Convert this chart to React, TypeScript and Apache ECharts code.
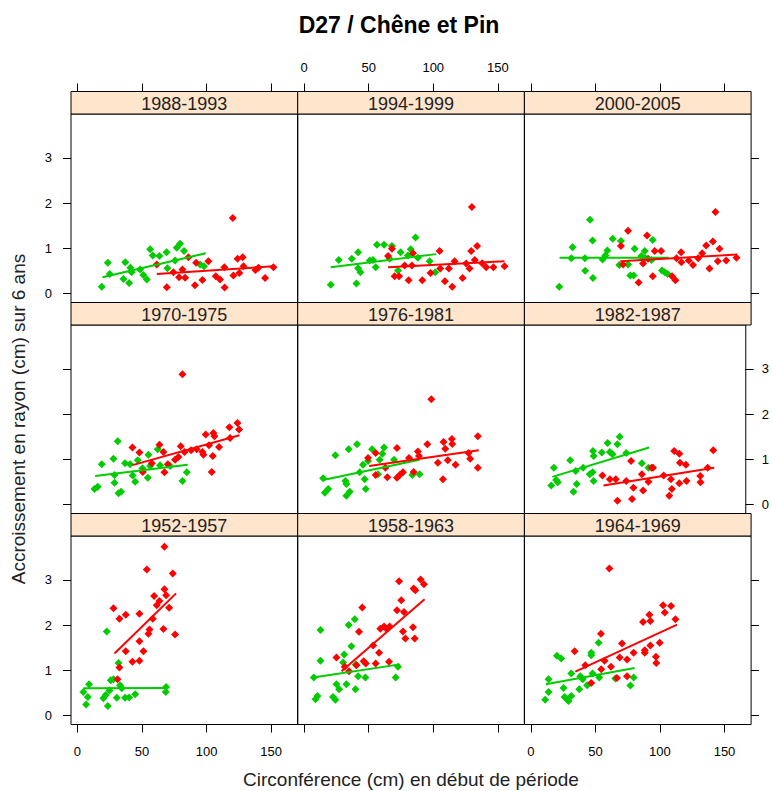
import React, { useEffect, useRef } from "react";
import * as echarts from "echarts";

type Pt = [number, number];

// Panel order: top row, middle row, bottom row (left to right)
const periods = [
  "1988-1993", "1994-1999", "2000-2005",
  "1970-1975", "1976-1981", "1982-1987",
  "1952-1957", "1958-1963", "1964-1969",
];
const xTicks = [0, 50, 100, 150];
const yTicks = [0, 1, 2, 3];

// ---- green group (points) ----
const green1988: Pt[] = [[18.8,0.15],[23.5,0.68],[25,0.43],[35.6,0.32],[37,0.69],[40,0.23],[41,0.57],[42,0.47],[48.5,0.53],[51,0.41],[53.7,0.31],[56.3,0.98],[58.3,0.84],[63.5,0.83],[69,0.91],[69.7,0.56],[75.6,0.73],[76.9,1.01],[79.5,1.1],[82.6,0.94],[95,0.64],[98,0.6]];
const green1994: Pt[] = [[20.6,0.19],[26.8,0.74],[36.9,0.77],[40.5,0.22],[41.8,0.91],[41.8,0.56],[43.6,0.47],[50.8,0.73],[53.3,0.74],[55.4,0.58],[56.4,1.08],[61.9,1.08],[66.2,0.77],[68,1.05],[72.7,0.51],[74.7,0.91],[80.4,0.84],[82.5,0.98],[86.3,1.24],[88.1,0.79],[97.2,0.71],[101.5,0.47]];
const green2000: Pt[] = [[22,0.15],[31.3,0.78],[32.3,1.02],[41.9,0.78],[42.1,0.5],[45.8,1.63],[47.8,1.17],[48.1,0.34],[55.6,0.75],[57.7,0.84],[59.2,0.95],[63.4,1.21],[68.5,0.63],[69.8,1.16],[75.3,0.64],[77,0.4],[79.6,0.4],[80.4,0.99],[85.6,0.83],[88.2,0.94],[88.7,0.78],[93.4,0.74],[94.4,1.18],[101.6,0.51],[103.7,0.47],[106,0.43]];
const green1970: Pt[] = [[13.2,0.34],[15.7,0.39],[18.8,0.89],[27.9,1.01],[28.7,0.65],[28.7,0.48],[31.2,1.4],[31.8,0.25],[33.8,0.28],[36.9,0.91],[40.8,0.89],[42.8,0.64],[44.7,0.5],[46.7,0.98],[50.3,0.8],[54.5,0.59],[55,1.1],[56.3,0.85],[62.2,1.22],[64,0.87],[71.8,0.85],[81.3,0.52],[84.7,0.71]];
const green1976: Pt[] = [[14.7,0.58],[16,0.26],[18.6,0.34],[24.2,1.09],[32,0.52],[32.7,0.45],[32.7,0.19],[34.5,1.22],[35.3,0.28],[41,1.33],[43,0.71],[45.6,0.88],[46.9,0.56],[47.7,0.34],[49.5,0.96],[52.6,1.22],[57.2,0.67],[58.5,0.99],[61.9,1.26],[60.6,1.12],[69.6,0.99],[83.8,0.65],[89.4,0.67]];
const green1982: Pt[] = [[16.3,0.42],[18.4,0.81],[20.2,0.54],[21.5,0.49],[31.3,0.98],[33.9,0.28],[36.5,0.45],[35.7,0.74],[41.6,0.81],[46.8,0.67],[49.1,0.71],[49.9,0.52],[49.4,1.18],[49.9,1.07],[56.4,1.15],[61,1.36],[62.8,1.16],[64.9,1.11],[68.8,1.33],[70.6,1.5],[75.8,1.14],[88.2,0.91],[93.4,0.81]];
const green1952: Pt[] = [[4.6,0.52],[6.7,0.24],[8,0.41],[9,0.69],[20.1,0.38],[21.9,0.45],[23.5,0.21],[22.7,1.86],[24.8,0.55],[25.8,0.78],[27.9,0.8],[30.5,0.39],[31.8,1.16],[33,0.67],[34.3,0.6],[36.9,0.39],[40,0.4],[44.7,0.47],[68.7,0.63],[68.4,0.52]];
const green1958: Pt[] = [[7.5,0.84],[8.8,0.36],[10.3,0.43],[12.6,1.21],[12.6,1.89],[22.4,0.41],[24.2,0.35],[25,0.69],[27.1,0.58],[30.2,1.17],[31,1.35],[32.7,0.69],[34.5,2.0],[36.6,1.53],[39.2,2.13],[39.7,0.58],[40,1.13],[41.8,0.87],[47.4,0.84],[70.9,0.84],[72.7,1.08]];
const green1964: Pt[] = [[11.1,0.35],[13.7,0.52],[13.7,0.8],[20.2,1.32],[23.5,1.26],[25.3,0.61],[26.1,0.41],[27.9,0.36],[29.2,0.32],[31.3,0.93],[31.3,0.43],[37.5,0.58],[38.3,0.87],[40.1,0.8],[43.6,0.67],[46.8,1.39],[46.8,1.33],[47.8,0.93],[52.5,1.61],[53,0.84],[65.4,0.82],[77.1,0.66],[79.6,0.84]];

// ---- red group (points) ----
const red1988: Pt[] = [[61.4,0.64],[69.2,0.14],[74.3,0.47],[78.7,0.36],[81.3,0.53],[83.4,0.35],[85.9,0.8],[91,0.18],[91.9,0.68],[96.8,0.3],[101.4,0.71],[107.1,0.38],[110.4,0.31],[113.8,0.58],[114,0.13],[120.3,1.67],[120.8,0.4],[124,0.77],[125.4,0.45],[128,0.8],[128.6,0.6],[137.8,0.52],[140.2,0.57],[145.3,0.34],[151.8,0.58]];
const red1994: Pt[] = [[65,0.83],[68,0.99],[70.1,0.38],[73.5,0.38],[77.8,0.62],[80.9,0.29],[83.5,0.62],[84.3,0.89],[91.5,0.29],[97.9,0.45],[104.9,0.94],[105.4,0.55],[109,0.27],[112.1,0.55],[114.7,0.15],[116.5,0.71],[122.7,0.34],[125.5,0.66],[128.1,0.55],[129.4,0.94],[129.9,1.91],[132.2,0.74],[134,1.05],[137.9,0.67],[141,0.58],[146.6,0.58],[155.2,0.6]];
const red2000: Pt[] = [[69.8,1.05],[71.4,0.64],[75.3,1.39],[83.5,0.24],[86.9,0.66],[90,1.28],[90.8,0.77],[94.4,0.38],[95.9,0.94],[100.9,0.94],[109.4,0.38],[112,0.29],[112.8,0.78],[116.4,0.91],[116.6,0.69],[122.3,0.73],[125.6,0.63],[129.6,0.78],[132.7,0.89],[135.8,1.06],[138.4,0.55],[141,1.15],[143,1.8],[144.8,0.71],[146.1,0.99],[151.3,0.73],[159.3,0.79]];
const red1970: Pt[] = [[42.6,1.26],[48,1.15],[50.6,0.72],[57.6,0.91],[63.5,1.32],[67.4,0.71],[66.6,1.16],[70,0.89],[75.6,0.99],[78.2,1.05],[80,1.29],[81.3,2.88],[82.9,1.16],[88,1.2],[92.4,1.22],[96.8,1.16],[97.6,1.1],[99.4,1.55],[101.9,1.31],[104,0.72],[104.8,1.07],[105.3,1.58],[106.1,1.51],[109.7,1.27],[117.7,1.71],[118.2,1.47],[123.9,1.8],[125.2,1.66]];
const red1976: Pt[] = [[49.5,1.03],[55.4,1.14],[55.4,0.65],[62.9,0.81],[64.4,0.6],[71.9,1.25],[71.9,0.59],[74,0.65],[76.5,0.71],[81.2,1.03],[84.8,0.72],[88.1,1.17],[88.9,1.07],[95.4,1.33],[98.5,2.33],[103.6,0.92],[107.5,0.56],[108,1.38],[109.3,1.23],[111.3,0.98],[114.4,1.45],[114.7,1.34],[117.3,0.88],[127.3,1.14],[128.6,1.01],[134.5,1.51],[134.5,0.81]];
const red1982: Pt[] = [[56.9,0.64],[62.8,0.56],[67.5,0.56],[68.8,0.08],[75.8,0.52],[79.6,0.96],[81.5,0.37],[80.4,0.12],[88.2,0.67],[89.2,0.31],[93.4,0.5],[95.9,0.81],[97,0.81],[105.5,0.64],[109.9,0.19],[111.2,0.56],[112,0.34],[113.8,1.18],[117.9,1.12],[117.9,0.47],[118.4,0.92],[123.1,0.88],[123.6,0.52],[134.5,0.63],[134.7,0.49],[140.4,0.81],[144.8,1.2]];
const red1952: Pt[] = [[31,0.8],[32.5,1.06],[27.9,2.37],[32.5,2.14],[37.4,2.23],[37.4,1.42],[42.6,1.19],[48,2.25],[48,1.21],[48,1.64],[51.1,1.42],[53.7,3.23],[55,1.81],[55.8,1.9],[58.3,2.14],[59.4,2.64],[61.4,2.44],[63.5,2.53],[66.6,1.91],[67.4,3.73],[67.4,2.79],[68.7,2.66],[71,2.38],[73.8,3.14],[75.6,1.79]];
const red1958: Pt[] = [[25,1.28],[31.4,1.08],[34.8,0.98],[40.5,1.11],[42.5,1.85],[45,2.39],[46.1,1.2],[47.7,1.15],[53.4,1.55],[55.4,1.15],[58,1.39],[59,1.92],[61.9,1.97],[63.7,1.92],[65.7,1.19],[66.2,1.97],[71.9,2.33],[73.5,2.97],[75.2,2.55],[76.5,1.86],[78.4,1.7],[77.3,2.29],[84.3,1.95],[85.6,1.7],[84.8,2.81],[86.1,2.77],[90.2,3.01],[92.8,2.9]];
const red1964: Pt[] = [[33.9,1.42],[42.2,1.11],[46.8,0.72],[54.3,1.81],[54.5,1.02],[57.1,1.21],[60.8,3.25],[62.1,1.08],[66.7,0.83],[68.8,1.28],[70.6,1.59],[74.5,1.24],[74.5,0.87],[79.6,1.39],[86.9,2.07],[88.2,1.44],[88.2,1.39],[91.8,2.23],[92.6,2.09],[92.6,1.55],[96.9,1.3],[97.2,1.16],[99.8,1.61],[102.4,2.44],[103.7,2.28],[108.6,2.42],[112,2.13]];

// ---- regression lines (end points) ----
const greenLines: Pt[][] = [
  [[19.4,0.36],[99.4,0.89]], [[20.6,0.58],[102.3,0.87]], [[22.2,0.79],[106.8,0.79]],
  [[13.7,0.63],[85.4,0.88]], [[14.7,0.54],[89.4,0.99]], [[17.1,0.61],[94,1.26]],
  [[4.6,0.6],[68.7,0.61]], [[7,0.84],[74,1.13]], [[11.6,0.69],[80.4,1.05]],
];
const redLines: Pt[][] = [
  [[61.4,0.43],[151.8,0.6]], [[65,0.58],[155.2,0.71]], [[69.3,0.71],[159.8,0.86]],
  [[42.6,0.87],[125.5,1.53]], [[50.3,0.85],[135.3,1.2]], [[57.7,0.42],[145.6,0.81]],
  [[28.7,1.37],[76.4,2.7]], [[28.9,0.98],[93.3,2.57]], [[34.4,0.97],[113.3,2.01]],
];

const greenPoints = [green1988, green1994, green2000, green1970, green1976, green1982, green1952, green1958, green1964];
const redPoints = [red1988, red1994, red2000, red1970, red1976, red1982, red1952, red1958, red1964];

const GREEN = "#00CC00";
const RED = "#FF0000";
const FONT = '"Liberation Sans", Arial, sans-serif';

const COL_LEFT = [71, 297.7, 524.4];
const PANEL_W = 226.7;
const ROW_TOP = [114, 325, 536];
const PANEL_H = 188.5;
const STRIP_H = 22.5;

export default function App() {
  const ref = useRef<HTMLDivElement>(null);
  useEffect(() => {
    if (!ref.current) return;
    const chart = echarts.init(ref.current, undefined, { renderer: "svg" });
    const grid: any[] = [];
    const xAxis: any[] = [];
    const yAxis: any[] = [];
    const series: any[] = [];
    const graphic: any[] = [];

    periods.forEach((label, p) => {
      const r = Math.floor(p / 3);
      const c = p % 3;
      grid.push({
        left: COL_LEFT[c], top: ROW_TOP[r], width: PANEL_W, height: PANEL_H,
        show: true, borderColor: "#000", borderWidth: 1, backgroundColor: "transparent",
      });
      const xShowTicks = r !== 1;
      const xShowLabels = (r === 0 && c === 1) || (r === 2 && c !== 1);
      xAxis.push({
        type: "value", gridIndex: p, min: -5, max: 170.6,
        position: r === 0 ? "top" : "bottom",
        offset: r === 0 ? STRIP_H : 0,
        axisLine: { show: false, onZero: false },
        splitLine: { show: false },
        axisTick: { show: xShowTicks, length: 8, customValues: xTicks, lineStyle: { color: "#000", width: 1 } },
        axisLabel: { show: xShowLabels, customValues: xTicks, fontSize: 13, color: "#000", fontFamily: FONT, margin: r === 0 ? 18 : 20 },
      });
      const yShowTicks = c !== 1;
      const yShowLabels = (c === 0 && r !== 1) || (c === 2 && r === 1);
      yAxis.push({
        type: "value", gridIndex: p, min: -0.2, max: 3.97,
        position: c === 2 ? "right" : "left",
        axisLine: { show: false, onZero: false },
        splitLine: { show: false },
        axisTick: { show: yShowTicks, length: 8, customValues: yTicks, lineStyle: { color: "#000", width: 1 } },
        axisLabel: { show: yShowLabels, customValues: yTicks, fontSize: 13, color: "#000", fontFamily: FONT, margin: c === 2 ? 16 : 19 },
      });
      series.push({
        type: "scatter", xAxisIndex: p, yAxisIndex: p, data: greenPoints[p],
        symbol: "diamond", symbolSize: 8, itemStyle: { color: GREEN, opacity: 1 },
      });
      series.push({
        type: "line", xAxisIndex: p, yAxisIndex: p, data: greenLines[p],
        showSymbol: false, lineStyle: { color: GREEN, width: 2 },
      });
      series.push({
        type: "scatter", xAxisIndex: p, yAxisIndex: p, data: redPoints[p],
        symbol: "diamond", symbolSize: 8, itemStyle: { color: RED, opacity: 1 },
      });
      series.push({
        type: "line", xAxisIndex: p, yAxisIndex: p, data: redLines[p],
        showSymbol: false, lineStyle: { color: RED, width: 2 },
      });
      // strip
      graphic.push({
        type: "rect",
        shape: { x: COL_LEFT[c], y: ROW_TOP[r] - STRIP_H, width: PANEL_W, height: STRIP_H },
        style: { fill: "#FFE5CC", stroke: "#000", lineWidth: 1 },
        z: 10,
      });
      graphic.push({
        type: "text",
        x: COL_LEFT[c] + PANEL_W / 2,
        y: ROW_TOP[r] - STRIP_H / 2 + 1,
        style: { text: label, font: `18px ${FONT}`, fill: "#222", align: "center", verticalAlign: "middle" },
        z: 11,
      });
    });

    graphic.push({
      type: "text", x: 399, y: 25,
      style: { text: "D27 / Chêne et Pin", font: `bold 23px ${FONT}`, fill: "#000", align: "center", verticalAlign: "middle" },
    });
    graphic.push({
      type: "text", x: 411, y: 779,
      style: { text: "Circonférence (cm) en début de période", font: `19px ${FONT}`, fill: "#222", align: "center", verticalAlign: "middle" },
    });
    graphic.push({
      type: "text", x: 18, y: 419, rotation: Math.PI / 2,
      style: { text: "Accroissement en rayon (cm) sur 6 ans", font: `19px ${FONT}`, fill: "#222", align: "center", verticalAlign: "middle" },
    });

    chart.setOption({
      animation: false,
      backgroundColor: "#fff",
      grid, xAxis, yAxis, series, graphic,
    });
    return () => chart.dispose();
  }, []);
  return (
    <div
      ref={ref}
      style={{ position: "absolute", left: 0, top: 0, width: 772, height: 791 }}
    />
  );
}
